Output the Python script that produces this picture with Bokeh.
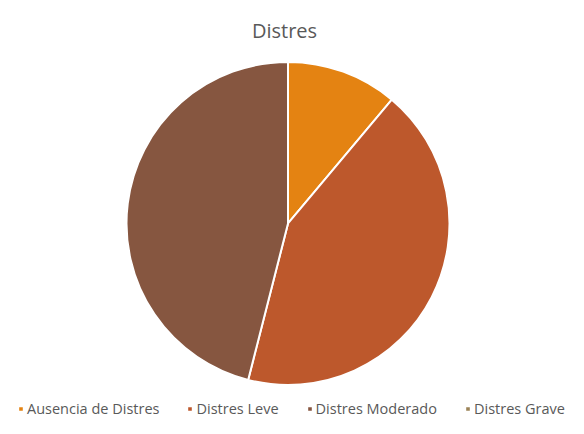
import math
from bokeh.plotting import figure
from bokeh.models import ColumnDataSource, Range1d, Legend, LegendItem
from bokeh.embed import file_html
from bokeh.resources import INLINE

categories = ["Ausencia de Distres", "Distres Leve", "Distres Moderado", "Distres Grave"]
values = [7, 27, 29, 0]
colors = ["#E48312", "#BD582C", "#865640", "#9B8357"]

total = sum(values)
starts, ends = [], []
acc = 0
for v in values:
    starts.append(math.pi / 2 - 2 * math.pi * acc / total)
    acc += v
    ends.append(math.pi / 2 - 2 * math.pi * acc / total)
R = 161.5
radii = [R if v > 0 else 0 for v in values]

src = ColumnDataSource(dict(cat=categories, val=values, color=colors,
                            start=starts, end=ends, radius=radii))

W, H = 568, 418
p = figure(width=W, height=H, output_backend="svg", toolbar_location=None,
           title="Distres", min_border=0,
           x_range=Range1d(0, W), y_range=Range1d(0, 384))
p.title.align = "center"
p.title.text_font = "Open Sans"
p.title.text_font_size = "20px"
p.title.text_font_style = "normal"
p.title.text_color = "#595959"
p.title.padding = 9
p.axis.visible = False
p.grid.visible = False
p.outline_line_color = None
p.background_fill_color = "white"
p.border_fill_color = "white"

r = p.wedge(x=287.5, y=207.5, radius="radius", start_angle="start", end_angle="end",
            direction="clock", fill_color="color", line_color="white", line_width=2, source=src)

items = [LegendItem(label=c, renderers=[r], index=i) for i, c in enumerate(categories)]
legend = Legend(items=items, orientation="horizontal", location=(17, 0),
                padding=0, margin=0, spacing=27, label_standoff=3,
                glyph_width=7, glyph_height=7,
                label_text_font="Open Sans", label_text_font_size="14.5px",
                label_text_color="#595959", border_line_color=None,
                background_fill_alpha=0)
p.add_layout(legend, "center")

open("out.html", "w").write(file_html(p, INLINE))
